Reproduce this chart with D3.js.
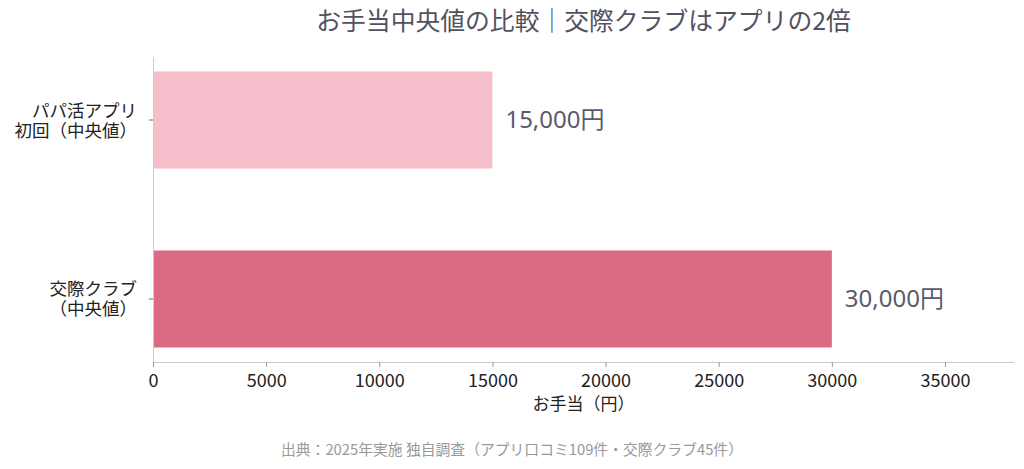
<!DOCTYPE html>
<html>
<head>
<meta charset="utf-8">
<script src="https://cdn.jsdelivr.net/npm/d3@7"></script>
<style>
  body { margin: 0; background: #fff; }
  text { font-family: "Noto Sans CJK JP", "Noto Sans", sans-serif; }
</style>
</head>
<body>
<div id="chart"></div>
<script>
// data
var categories = ["パパ活アプリ\n初回（中央値）", "交際クラブ\n（中央値）"];
var values = [15000, 30000];
var valueLabels = ["15,000円", "30,000円"];
var barColors = ["#f4bfcb", "#db6b82"];
var xTicks = [0, 5000, 10000, 15000, 20000, 25000, 30000, 35000];

var W = 1024, H = 469;
var margin = { left: 153, right: 10, top: 57, bottom: 107 };

var svg = d3.select("#chart").append("svg")
    .attr("width", W)
    .attr("height", H);

var x = d3.scaleLinear()
    .domain([0, 38050])
    .range([margin.left, W - margin.right]);

var y = d3.scaleBand()
    .domain(categories)
    .range([margin.top, H - margin.bottom])
    .paddingInner(0.458)
    .paddingOuter(0.081);

// title
svg.append("text")
    .attr("x", (margin.left + W - margin.right) / 2)
    .attr("y", 30)
    .attr("text-anchor", "middle")
    .attr("font-size", 24.8)
    .attr("fill", "#52525f")
    .text("お手当中央値の比較｜交際クラブはアプリの2倍");

// bars
svg.selectAll(".bar")
    .data(values)
    .enter().append("rect")
    .attr("class", "bar")
    .attr("x", x(0))
    .attr("y", function(d, i) { return y(categories[i]); })
    .attr("width", function(d) { return x(d) - x(0); })
    .attr("height", y.bandwidth())
    .attr("fill", function(d, i) { return barColors[i]; });

// value labels
svg.selectAll(".vlabel")
    .data(values)
    .enter().append("text")
    .attr("class", "vlabel")
    .attr("x", function(d) { return x(d) + 13; })
    .attr("y", function(d, i) { return y(categories[i]) + y.bandwidth() / 2; })
    .attr("dy", "0.35em")
    .attr("font-size", 24)
    .attr("fill", "#5a5a6e")
    .style("font-family", "'Noto Sans', 'Noto Sans CJK JP', sans-serif")
    .text(function(d, i) { return valueLabels[i]; });

// x axis
var xAxis = svg.append("g")
    .attr("transform", "translate(0," + (H - margin.bottom) + ")")
    .call(d3.axisBottom(x).tickValues(xTicks).tickFormat(d3.format("d")).tickSize(5).tickSizeOuter(0));
xAxis.select(".domain").attr("stroke", "#cccccc");
xAxis.selectAll(".tick line").attr("stroke", "#999999");
xAxis.selectAll(".tick text")
    .attr("font-size", 18)
    .attr("fill", "#222")
    .attr("dy", "0.95em")
    .style("font-family", "'Noto Sans CJK JP', sans-serif");

svg.append("text")
    .attr("x", (margin.left + W - margin.right) / 2)
    .attr("y", 410)
    .attr("text-anchor", "middle")
    .attr("font-size", 17)
    .attr("fill", "#222")
    .text("お手当（円）");

// y axis
var yAxis = svg.append("g")
    .attr("transform", "translate(" + margin.left + ",0)")
    .call(d3.axisLeft(y).tickSize(4).tickSizeOuter(0).tickFormat(""));
yAxis.select(".domain").attr("stroke", "#cccccc");
yAxis.selectAll(".tick line").attr("stroke", "#666");

// two-line category labels
yAxis.selectAll(".tick").each(function(d) {
    var lines = d.split("\n");
    var tick = d3.select(this);
    lines.forEach(function(line, i) {
        tick.append("text")
            .attr("x", -16)
            .attr("y", i == 0 ? -3.5 : 16.5)
            .attr("text-anchor", "end")
            .attr("font-size", 17.5)
            .attr("fill", "#222")
            .text(line);
    });
});

// source
svg.append("text")
    .attr("x", W / 2)
    .attr("y", 455)
    .attr("text-anchor", "middle")
    .attr("font-size", 14.8)
    .attr("fill", "#999999")
    .text("出典：2025年実施 独自調査（アプリ口コミ109件・交際クラブ45件）");
</script>
</body>
</html>
